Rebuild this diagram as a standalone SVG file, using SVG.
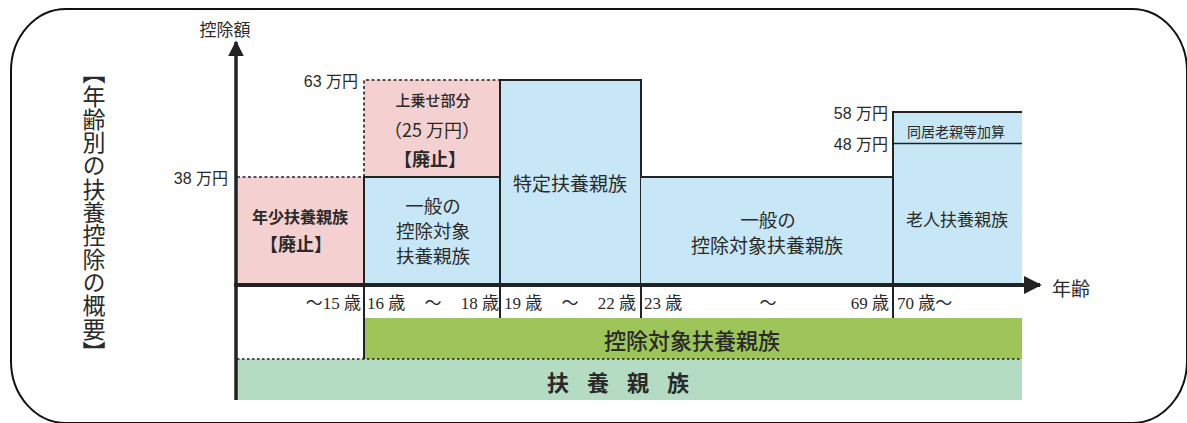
<svg xmlns="http://www.w3.org/2000/svg" width="1187" height="423" viewBox="0 0 1187 423">
<style>
.jp{font-family:"Noto Sans CJK JP","Noto Sans",sans-serif;fill:#2a2a2a}
.num{font-family:"Liberation Sans","Noto Sans CJK JP",sans-serif;fill:#2a2a2a}
.age{font-family:"Liberation Serif","Noto Sans CJK JP",serif;fill:#2a2a2a;font-size:17px}
.b{font-weight:bold}
.pink{fill:#f4d0d1}
.blue{fill:#c7e7f6}
.edge{stroke:#222;stroke-width:2;fill:none}
.dash{stroke:#222;stroke-width:1.6;stroke-dasharray:3 2.5;fill:none}
.mid{text-anchor:middle}
.end{text-anchor:end}
</style>
<defs>
<marker id="arr" viewBox="0 0 10 10" refX="9" refY="5" markerWidth="4.5" markerHeight="4.5" orient="auto" markerUnits="strokeWidth">
<path d="M0,0 L10,5 L0,10 Z" fill="#222"/>
</marker>
</defs>
<rect x="11" y="9" width="1176" height="414" rx="55" ry="62" fill="#fff" stroke="#111" stroke-width="2"/>

<g id="title">
<text class="jp" x="94" y="61" font-size="23" style="writing-mode:vertical-rl;letter-spacing:0.3px">【年齢別の扶養控除の概要】</text>
</g>

<g id="bar-fuyou">
<rect x="236" y="359" width="786" height="41" fill="#b4dcc2"/>
<text class="jp b mid" x="627" y="391" font-size="22" letter-spacing="18">扶養親族</text>
</g>
<g id="bar-koujo">
<rect x="364" y="318" width="658" height="41" fill="#9dc55a"/>
<text class="jp mid" x="692" y="349" font-size="22" font-weight="500">控除対象扶養親族</text>
</g>

<g id="node-nenshou">
<rect class="pink" x="236" y="177" width="127" height="107"/>
<text class="jp b mid" x="300" y="223" font-size="16">年少扶養親族</text>
<text class="jp b mid" x="296" y="251" font-size="18">【廃止】</text>
</g>
<g id="node-uwanose">
<rect class="pink" x="364" y="80" width="136" height="97"/>
<text class="jp mid" x="433" y="106" font-size="15" font-weight="500">上乗せ部分</text>
<text class="jp mid" x="432" y="137" font-size="18">（25 万円）</text>
<text class="jp b mid" x="430" y="166" font-size="18">【廃止】</text>
</g>
<g id="node-ippan1">
<rect class="blue" x="364" y="177" width="136" height="107"/>
<path class="edge" d="M364,284 V177 H500"/>
<text class="jp mid" x="433" y="213" font-size="18.5">一般の</text>
<text class="jp mid" x="433" y="238" font-size="18.5">控除対象</text>
<text class="jp mid" x="433" y="263" font-size="18.5">扶養親族</text>
</g>
<g id="node-tokutei">
<rect class="blue" x="500" y="80" width="141" height="204"/>
<path class="edge" d="M500,284 V80 H641 V284"/>
<text class="jp mid" x="570" y="191" font-size="19">特定扶養親族</text>
</g>
<g id="node-ippan2">
<rect class="blue" x="641" y="177" width="252" height="107"/>
<path class="edge" d="M641,177 H893"/>
<text class="jp mid" x="768" y="227" font-size="18.5">一般の</text>
<text class="jp mid" x="767" y="253" font-size="19">控除対象扶養親族</text>
</g>
<g id="node-roujin">
<rect class="blue" x="893" y="112" width="129" height="172"/>
<path class="edge" d="M893,284 V112 H1022"/>
<line x1="893" y1="143.5" x2="1022" y2="143.5" stroke="#222" stroke-width="1.3"/>
<text class="jp mid" x="956" y="137" font-size="14">同居老親等加算</text>
<text class="jp mid" x="957" y="226" font-size="17">老人扶養親族</text>
</g>

<g id="connectors">
<path class="dash" d="M237,177 H363"/>
<path class="dash" d="M364,177 V80 H499"/>
<line x1="236" y1="400" x2="236" y2="42" stroke="#222" stroke-width="3.5" marker-end="url(#arr)"/>
<line x1="234" y1="285" x2="1040" y2="285" stroke="#222" stroke-width="4" marker-end="url(#arr)"/>
<path class="edge" d="M364,285 V359 M500,285 V318 M641,285 V318 M893,285 V318" stroke-width="2.5"/>
<path d="M237,359 H1022" stroke="#222" stroke-width="1.6" stroke-dasharray="2.5 2.5" fill="none"/>
</g>

<g id="labels">
<text class="jp mid" x="225" y="36" font-size="17">控除額</text>
<text class="jp" x="1052" y="296" font-size="19">年齢</text>
<text class="num end" x="358" y="87" font-size="16">63 万円</text>
<text class="num end" x="228" y="184" font-size="16">38 万円</text>
<text class="num end" x="888" y="119" font-size="16">58 万円</text>
<text class="num end" x="888" y="150" font-size="16">48 万円</text>
<text class="age end" x="361" y="309">～15 歳</text>
<text class="age" x="367" y="309">16 歳</text>
<text class="age mid" x="433" y="309">～</text>
<text class="age end" x="499" y="309">18 歳</text>
<text class="age" x="504" y="309">19 歳</text>
<text class="age mid" x="570" y="309">～</text>
<text class="age end" x="636" y="309">22 歳</text>
<text class="age" x="644" y="309">23 歳</text>
<text class="age mid" x="768" y="309">～</text>
<text class="age end" x="889" y="309">69 歳</text>
<text class="age" x="897" y="309">70 歳～</text>
</g>
</svg>
